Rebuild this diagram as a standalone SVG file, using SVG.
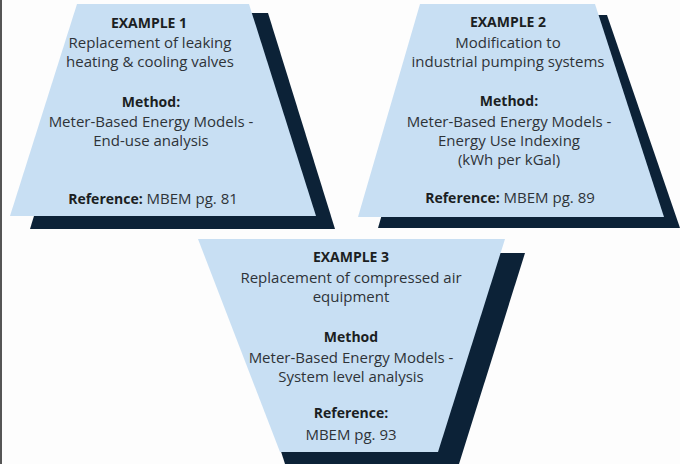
<svg xmlns="http://www.w3.org/2000/svg" width="680" height="464" viewBox="0 0 680 464">
<style>
.shadow{fill:#0c2237}
.card{fill:#c8dff3}
text{font-family:"Open Sans","Liberation Sans",sans-serif;font-size:15px;fill:#2e3338;text-anchor:middle}
.b{font-weight:bold;fill:#1b1e22;font-size:14px}
</style>
<rect x="0" y="0" width="680" height="464" fill="#fdfdfd"/>
<rect x="0" y="0" width="2" height="464" fill="#555"/>
<g id="example1">
<polygon class="shadow" points="96,13 268,13 335,229 30,229"/>
<polygon class="card" points="77,4 249,4 316,216 10,216"/>
<text x="149" y="28" class="b">EXAMPLE 1</text>
<text x="150" y="48">Replacement of leaking</text>
<text x="150" y="67">heating &amp; cooling valves</text>
<text x="151" y="107" class="b">Method:</text>
<text x="151" y="127">Meter-Based Energy Models -</text>
<text x="151" y="146">End-use analysis</text>
<text x="153" y="204"><tspan class="b">Reference:</tspan> MBEM pg. 81</text>
</g>
<g id="example2">
<polygon class="shadow" points="440,15 607,15 680,228 378,228"/>
<polygon class="card" points="420,4 595,4 664,217 358,217"/>
<text x="508" y="27" class="b">EXAMPLE 2</text>
<text x="508" y="48">Modification to</text>
<text x="508" y="67">industrial pumping systems</text>
<text x="509" y="106" class="b">Method:</text>
<text x="509" y="127">Meter-Based Energy Models -</text>
<text x="509" y="146">Energy Use Indexing</text>
<text x="509" y="165">(kWh per kGal)</text>
<text x="510" y="203"><tspan class="b">Reference:</tspan> MBEM pg. 89</text>
</g>
<g id="example3">
<polygon class="shadow" points="218,253 525,253 459,464 285,464"/>
<polygon class="card" points="198,239 505,239 438,452 280,452"/>
<text x="351" y="262" class="b">EXAMPLE 3</text>
<text x="351" y="283">Replacement of compressed air</text>
<text x="351" y="302">equipment</text>
<text x="351" y="342" class="b">Method</text>
<text x="351" y="363">Meter-Based Energy Models -</text>
<text x="351" y="382">System level analysis</text>
<text x="351" y="418" class="b">Reference:</text>
<text x="351" y="440">MBEM pg. 93</text>
</g>
<g id="connectors"></g>
</svg>
